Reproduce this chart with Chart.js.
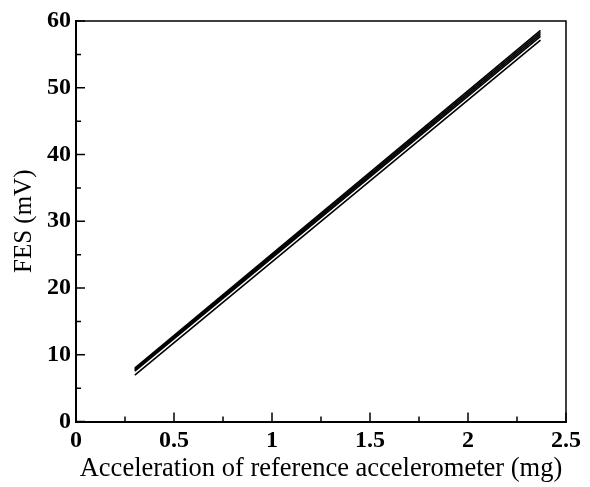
<!DOCTYPE html>
<html>
<head>
<meta charset="utf-8">
<script src="https://cdn.jsdelivr.net/npm/chart.js@4"></script>
<style>
  html, body { margin: 0; padding: 0; background: #fff; }
  #wrap { width: 590px; height: 487px; }
</style>
</head>
<body>
<div id="wrap"><canvas id="grafico" width="590" height="487"></canvas></div>
<script>
// endpoints of each calibration line
const xInicio = 0.3;
const xFin = 2.37;
const fesInicio = [8.0, 7.85, 7.7, 7.55, 6.95];
const fesFin = [58.6, 58.3, 58.0, 57.7, 57.15];

// tick labels
const xTicks = [0, 0.5, 1, 1.5, 2, 2.5];
const yTicks = [0, 10, 20, 30, 40, 50, 60];
const xMenores = [0.25, 0.75, 1.25, 1.75, 2.25];
const yMenores = [5, 15, 25, 35, 45, 55];

const fuenteEje = "'Liberation Serif', 'Times New Roman', serif";

// ticks pointing inside plus the top/right frame
const marcoYTicks = {
    id: 'marcoYTicks',
    afterDraw(chart) {
        const ctx = chart.ctx;
        const area = chart.chartArea;
        const sx = chart.scales.x;
        const sy = chart.scales.y;
        ctx.save();
        ctx.strokeStyle = '#000';
        ctx.lineWidth = 1.5;
        ctx.beginPath();
        ctx.moveTo(area.left, area.top);
        ctx.lineTo(area.right, area.top);
        ctx.lineTo(area.right, area.bottom);
        ctx.stroke();

        ctx.beginPath();
        xTicks.forEach(v => {
            const px = sx.getPixelForValue(v);
            ctx.moveTo(px, area.bottom);
            ctx.lineTo(px, area.bottom - 9);
        });
        xMenores.forEach(v => {
            const px = sx.getPixelForValue(v);
            ctx.moveTo(px, area.bottom);
            ctx.lineTo(px, area.bottom - 5);
        });
        yTicks.forEach(v => {
            const py = sy.getPixelForValue(v);
            ctx.moveTo(area.left, py);
            ctx.lineTo(area.left + 9, py);
        });
        yMenores.forEach(v => {
            const py = sy.getPixelForValue(v);
            ctx.moveTo(area.left, py);
            ctx.lineTo(area.left + 5, py);
        });
        ctx.stroke();
        ctx.restore();
    }
};

const datasets = fesInicio.map((ini, i) => ({
    label: 'Línea ' + (i + 1),
    data: [{ x: xInicio, y: ini }, { x: xFin, y: fesFin[i] }],
    showLine: true,
    borderColor: '#000',
    borderWidth: 1.6,
    pointRadius: 0,
    fill: false
}));

new Chart(document.getElementById('grafico'), {
    type: 'scatter',
    data: { datasets: datasets },
    plugins: [marcoYTicks],
    options: {
        responsive: false,
        animation: false,
        layout: { padding: { top: 21, right: 24, bottom: 0, left: 0 } },
        plugins: { legend: { display: false }, tooltip: { enabled: false } },
        scales: {
            x: {
                type: 'linear',
                min: 0,
                max: 2.5,
                afterBuildTicks: (s) => { s.ticks = xTicks.map(v => ({ value: v })); },
                afterFit: (s) => { s.height = 65.5; },
                grid: { display: false, drawTicks: false },
                border: { display: true, color: '#000', width: 2 },
                ticks: {
                    autoSkip: false,
                    maxRotation: 0,
                    padding: 4.5,
                    color: '#000',
                    font: { family: fuenteEje, size: 24, weight: 'bold' },
                    callback: (v) => String(v)
                },
                title: {
                    display: true,
                    text: 'Acceleration of reference accelerometer (mg)',
                    color: '#000',
                    padding: { top: 0, bottom: 2 },
                    font: { family: fuenteEje, size: 26.5, weight: 'normal' }
                }
            },
            y: {
                type: 'linear',
                min: 0,
                max: 60,
                afterBuildTicks: (s) => { s.ticks = yTicks.map(v => ({ value: v })); },
                afterFit: (s) => { s.width = 76; },
                grid: { display: false, drawTicks: false },
                border: { display: true, color: '#000', width: 2 },
                ticks: {
                    autoSkip: false,
                    padding: 5,
                    color: '#000',
                    font: { family: fuenteEje, size: 24, weight: 'bold' },
                    callback: (v) => String(v)
                },
                title: {
                    display: true,
                    text: 'FES (mV)',
                    color: '#000',
                    padding: { top: 9, bottom: 0 },
                    font: { family: fuenteEje, size: 25, weight: 'normal' }
                }
            }
        }
    }
});
</script>
</body>
</html>
